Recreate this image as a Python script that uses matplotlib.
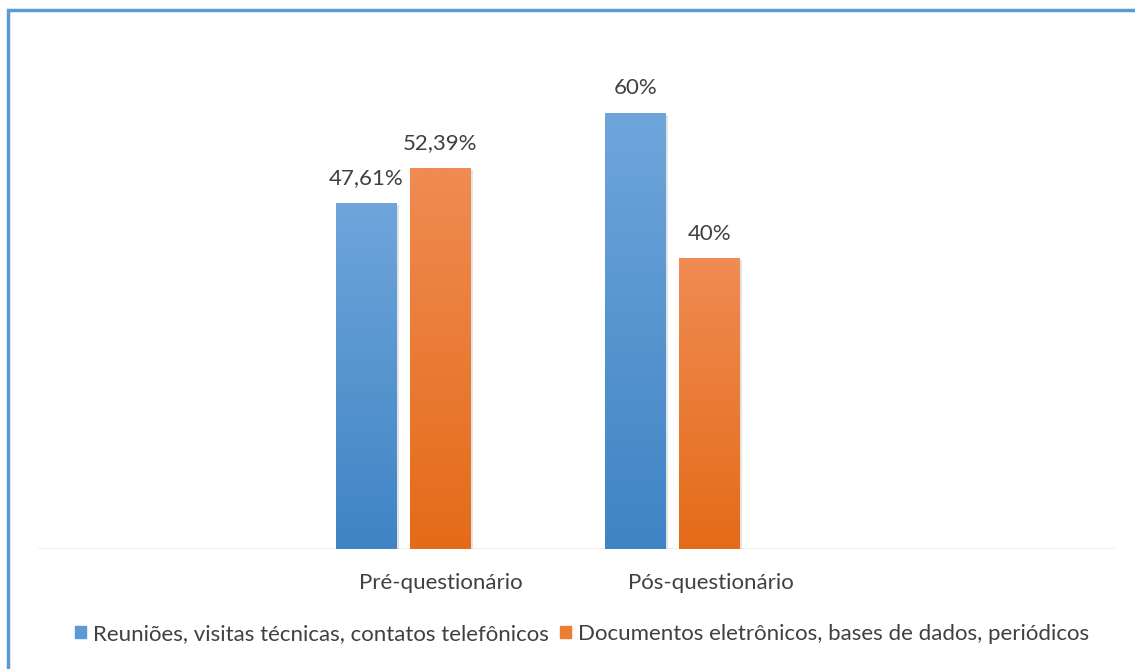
import numpy as np
import matplotlib
matplotlib.use("Agg")
import matplotlib.pyplot as plt
from matplotlib.colors import LinearSegmentedColormap
from matplotlib.patches import Rectangle

plt.rcParams['font.family'] = ['Lato', 'DejaVu Sans']

categorias = ["Pré-questionário", "Pós-questionário"]
series = ["Reuniões, visitas técnicas, contatos telefônicos",
          "Documentos eletrônicos, bases de dados, periódicos"]
reunioes = [47.61, 60.0]
documentos = [52.39, 40.0]
rotulos = [["47,61%", "60%"], ["52,39%", "40%"]]

# top / bottom gradient colours for each series
cores = [("#6fa5db", "#3f84c5"), ("#f08b52", "#e46b18")]
cores_legenda = ["#5b9bd5", "#ed7d31"]

fs = 16
W, H = 1135, 669
fig = plt.figure(figsize=(W / 100, H / 100), dpi=100)
ax = fig.add_axes([38 / W, 120 / H, (1115 - 38) / W, 509 / H])

largura = 0.223
desloc = 0.137
x = np.arange(len(categorias))

for s, (valores, (c_top, c_bot)) in enumerate(zip([reunioes, documentos], cores)):
    cmap = LinearSegmentedColormap.from_list("g%d" % s, [c_bot, c_top])
    barras = ax.bar(x + (2 * s - 1) * desloc, valores, largura, color="none",
                    edgecolor="none", zorder=3)
    for i, b in enumerate(barras):
        x0, y0 = b.get_x(), b.get_y()
        w, h = b.get_width(), b.get_height()
        # soft shadow on the right side
        ax.add_patch(Rectangle((x0 + 0.006, y0), w + 0.004, h - 0.3,
                               color="#c8c8c8", alpha=0.5, zorder=2, lw=0))
        grad = np.linspace(0, 1, 256).reshape(-1, 1)
        im = ax.imshow(grad, cmap=cmap, aspect="auto", origin="lower",
                       extent=(x0, x0 + w, y0, y0 + h), zorder=3)
        im.set_clip_path(b)
        ax.text(x0 + w / 2, h + 2.0, rotulos[s][i], ha="center", va="bottom",
                fontsize=fs, color="#404040", zorder=4)

ax.set_xlim(-1.354, 2.642)
ax.set_ylim(0, 70)
ax.axhline(0, color="#ececec", lw=1.2, zorder=1)
for sp in ax.spines.values():
    sp.set_visible(False)
ax.set_yticks([])
ax.set_xticks(x + 0.141)
ax.set_xticklabels(categorias, fontsize=fs, color="#404040")
ax.tick_params(axis="x", length=0, pad=17)

# legend
handles = [Rectangle((0, 0), 1, 1, color=c) for c in cores_legenda]
fig.legend(handles, series, loc="center", bbox_to_anchor=(582 / W, 1 - 634 / H),
           ncol=2, frameon=False, fontsize=fs, handlelength=0.5,
           handleheight=0.5, handletextpad=0.3, columnspacing=0.5,
           labelcolor="#404040")

# blue frame around the chart area
fig.patches.append(Rectangle((8 / W, -0.1), 1.2, (H - 10) / H + 0.1,
                             transform=fig.transFigure, fill=False,
                             edgecolor="#5b9bd5", lw=2.5, zorder=10))

fig.savefig("out.png", dpi=100)
